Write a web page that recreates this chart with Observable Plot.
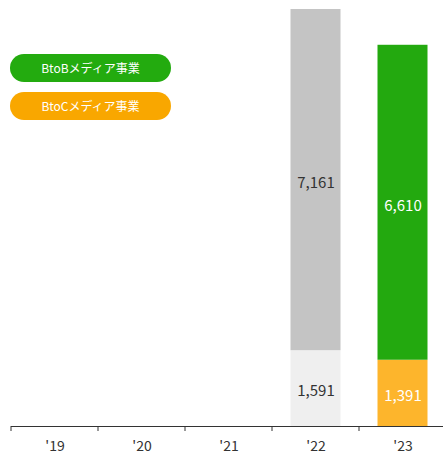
<!DOCTYPE html>
<html>
<head>
<meta charset="utf-8">
<script src="https://cdn.jsdelivr.net/npm/d3@7"></script>
<script src="https://cdn.jsdelivr.net/npm/@observablehq/plot@0.6"></script>
<style>
  html, body { margin: 0; padding: 0; background: #fff; overflow: hidden; }
  #wrap { position: relative; width: 443px; height: 457px; font-family: "Noto Sans CJK JP", "Noto Sans", sans-serif; }
  .pill { position: absolute; left: 10px; width: 161px; height: 28px; border-radius: 14px; color: #fff;
          font-size: 12px; line-height: 28px; text-align: center; }
</style>
</head>
<body>
<div id="wrap"></div>
<script>
// ---- data ----
const years = ["'19", "'20", "'21", "'22", "'23"];
const bottomValues = [null, null, null, 1591, 1391];
const topValues = [null, null, null, 7161, 6610];
const legendLabels = ["BtoBメディア事業", "BtoCメディア事業"];

// ---- styles (kept separate from data) ----
const fills = {
  "'22": {bottom: "#efefef", top: "#c4c4c4"},
  "'23": {bottom: "#fdb52c", top: "#23a90f"}
};
const textColors = {
  "'22": {bottom: "#333333", top: "#333333"},
  "'23": {bottom: "#ffffff", top: "#ffffff"}
};
const legendColors = ["#23ab0f", "#f9a700"];

const rows = [];
years.forEach((yr, i) => {
  if (bottomValues[i] != null) rows.push({year: yr, seg: "bottom", value: bottomValues[i]});
  if (topValues[i] != null) rows.push({year: yr, seg: "top", value: topValues[i]});
});

const fmt = d3.format(",");

const boundaryTicks = Plot.ruleX(years, {
  x: d => d,
  render(index, scales) {
    const g = d3.create("svg:g");
    const y0 = scales.y(0);
    const bw = scales.x.bandwidth ? scales.x.bandwidth() : 0;
    const xs = years.map(d => scales.x(d));
    xs.push(xs[xs.length - 1] + bw);
    for (const x of xs) {
      g.append("line").attr("x1", x).attr("x2", x).attr("y1", y0).attr("y2", y0 + 5)
        .attr("stroke", "#333").attr("stroke-width", 1);
    }
    return g.node();
  }
});

const chart = Plot.plot({
  width: 443,
  height: 457,
  marginTop: 9,
  marginBottom: 31,
  marginLeft: 11,
  marginRight: 0,
  style: {fontFamily: "'Noto Sans CJK JP', 'Noto Sans', sans-serif", background: "#fff"},
  x: {domain: years, range: [11, 446], padding: 0, label: null},
  y: {domain: [0, 8752], axis: null},
  marks: [
    Plot.barY(rows, Plot.stackY({
      x: "year", y: "value", z: "seg", order: ["bottom", "top"],
      fill: d => fills[d.year][d.seg], inset: 18.5, insetTop: 0, insetBottom: 0
    })),
    Plot.text(rows, Plot.stackY({
      x: "year", y: "value", z: "seg", order: ["bottom", "top"],
      text: d => fmt(d.value), fill: d => textColors[d.year][d.seg],
      fontSize: 15, dy: 3
    })),
    Plot.ruleY([0], {stroke: "#333", strokeWidth: 1}),
    boundaryTicks,
    Plot.axisX({tickSize: 0, tickPadding: 15, fontSize: 14, fill: "#333", label: null})
  ]
});

const wrap = document.getElementById("wrap");
wrap.appendChild(chart);
legendLabels.forEach((lab, i) => {
  const p = document.createElement("div");
  p.className = "pill";
  p.style.top = (54 + i * 38) + "px";
  p.style.background = legendColors[i];
  p.textContent = lab;
  wrap.appendChild(p);
});
</script>
</body>
</html>
